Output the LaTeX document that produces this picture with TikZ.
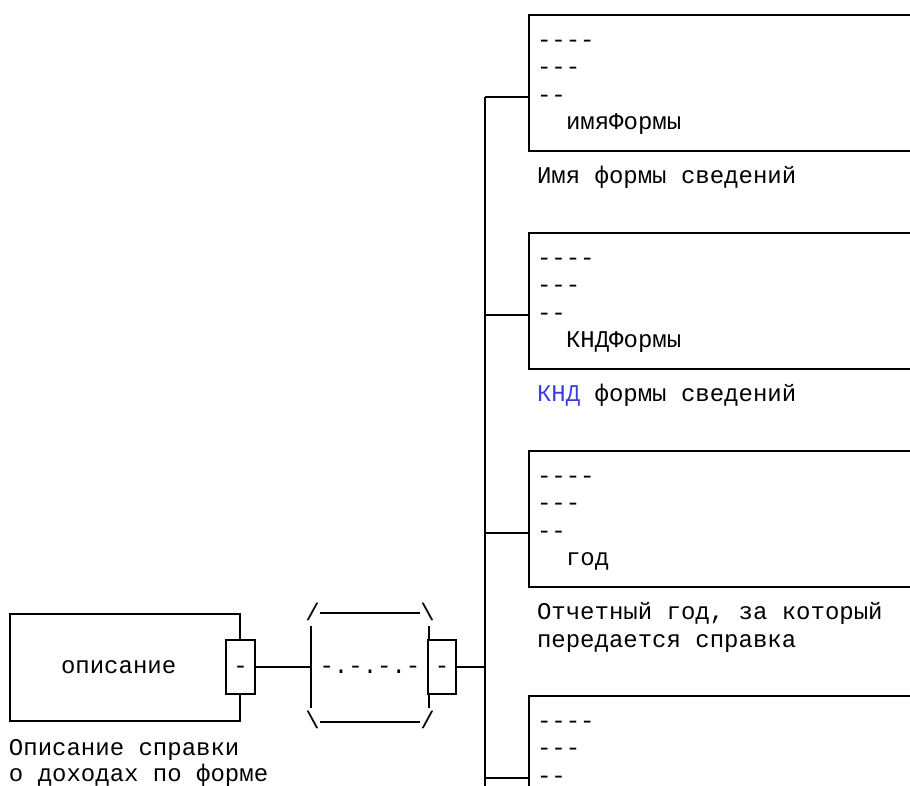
\documentclass[tikz,border=0pt]{standalone}
\usepackage{fontspec}
\setmonofont{Liberation Mono}
\definecolor{kndblue}{RGB}{60,60,230}

\begin{document}
\begin{tikzpicture}[x=1pt,y=-1pt,inner sep=0pt,line width=2pt,font=\ttfamily\frenchspacing\fontsize{24}{28}\selectfont]
\tikzstyle{frame}=[rectangle, draw=black, minimum width=420pt, minimum height=136pt, anchor=north west]
\tikzstyle{port}=[rectangle, draw=black, fill=white, minimum width=29pt, minimum height=54pt, text height=13pt, text depth=0pt]
\tikzstyle{txt}=[anchor=base west]
\useasboundingbox (0,0) rectangle (910,785);
\clip (0,0) rectangle (910,785);
% left element
\node[rectangle, draw=black, minimum width=230pt, minimum height=107pt] (desc) at (125,667.5) {};
\node[txt] (desctxt) at (60,673) {описание};
\node[port] (p1) at (240.5,667) {-};
\node[txt] (dl1) at (8,755) {Описание справки};
\node[txt] (dl2) at (8,781) {о доходах по форме};
% sequence
\node[minimum width=116pt, minimum height=80pt, text height=13pt, text depth=0pt] (seq) at (370,667) {-.-.-.-};
\draw (seq.north west) -- (seq.south west);
\draw (seq.north east) -- (seq.south east);
\draw (320,613) -- (420,613);
\draw (320,722) -- (420,722);
\node (sq1) at (312.5,612) {/};
\node (sq2) at (427.5,612) {\textbackslash};
\node (sq3) at (312.5,720) {\textbackslash};
\node (sq4) at (427.5,720) {/};
\node[port, minimum width=28pt] (p2) at (442,667) {-};
\draw (p1.east) -- (seq.west);
% trunk
\coordinate (j0) at (485,667);
\coordinate (j1) at (485,97);
\coordinate (j2) at (485,315);
\coordinate (j3) at (485,533);
\coordinate (j4) at (485,778);
\coordinate (bot) at (485,800);
\draw (j1) -- (bot);
\draw (p2.east) -- (j0);
% elements
\node[frame] (b1) at (528,14) {};
\node[frame] (b2) at (528,232) {};
\node[frame] (b3) at (528,450) {};
\node[frame] (b4) at (528,695) {};
\draw (j1) -- (j1 -| b1.west);
\draw (j2) -- (j2 -| b2.west);
\draw (j3) -- (j3 -| b3.west);
\draw (j4) -- (j4 -| b4.west);
\node[txt] (b1a) at (536,47) {----};
\node[txt] (b1b) at (536,74) {---};
\node[txt] (b1c) at (536,102) {--};
\node[txt] (b1n) at (565,129) {имяФормы};
\node[txt] (l1) at (536,183) {Имя формы сведений};
\node[txt] (b2a) at (536,265) {----};
\node[txt] (b2b) at (536,292) {---};
\node[txt] (b2c) at (536,320) {--};
\node[txt] (b2n) at (565,347) {КНДФормы};
\node[txt] (l2) at (536,401) {{\color{kndblue}КНД} формы сведений};
\node[txt] (b3a) at (536,483) {----};
\node[txt] (b3b) at (536,510) {---};
\node[txt] (b3c) at (536,538) {--};
\node[txt] (b3n) at (565,565) {год};
\node[txt] (l3a) at (536,619) {Отчетный год, за который};
\node[txt] (l3b) at (536,647) {передается справка};
\node[txt] (b4a) at (536,728) {----};
\node[txt] (b4b) at (536,755) {---};
\node[txt] (b4c) at (536,783) {--};
\end{tikzpicture}
\end{document}
